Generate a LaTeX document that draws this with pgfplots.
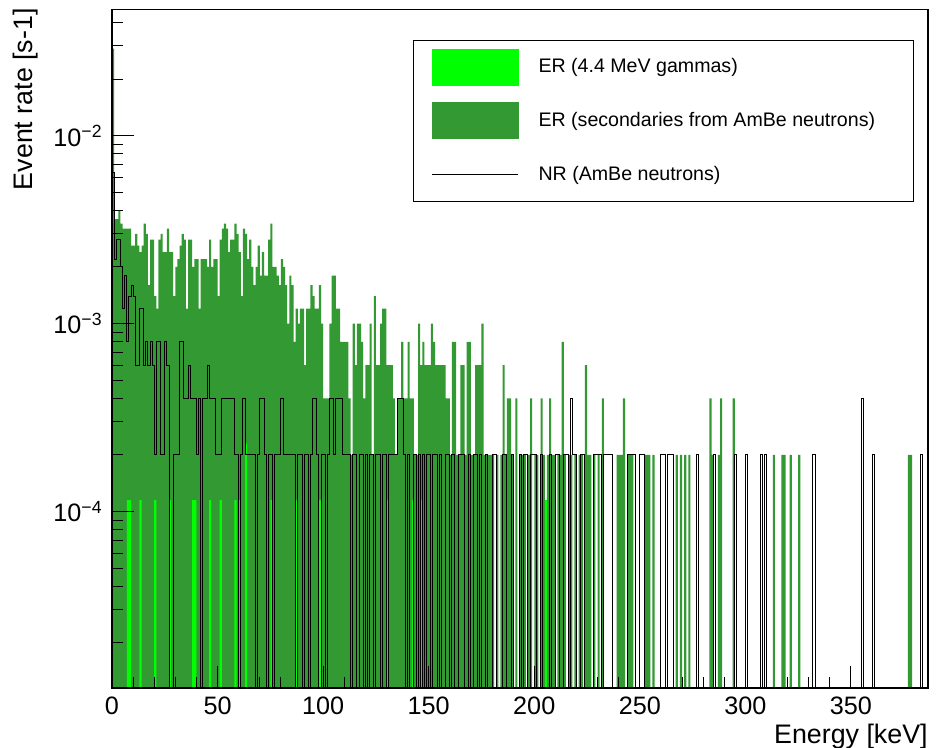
\documentclass[border=0pt]{standalone}
\usepackage{fontspec}
\setmainfont{Liberation Sans}
\usepackage{pgfplots}
\pgfplotsset{compat=1.18}
\definecolor{rootgreen}{RGB}{51,153,51}
\definecolor{rootlime}{RGB}{0,255,0}
\begin{document}
\begin{tikzpicture}
\begin{axis}[
  scale only axis,
  width=408pt, height=339.35pt,
  at={(0,0)}, anchor=south west,
  ymode=log, log origin=infty,
  xmin=0, xmax=386.5, ymin=1.15e-5, ymax=0.047,
  axis on top,
  axis line style={line width=0.6pt},
  tick align=inside, tick pos=left,
  major tick length=11pt, minor tick length=5.5pt,
  every tick/.style={black, line width=0.5pt},
  xtick={0,50,...,350}, minor x tick num=4,
  ytick={1e-4,1e-3,1e-2},
  yticklabels={10\textsuperscript{−4},10\textsuperscript{−3},10\textsuperscript{−2}},
  minor ytick={2e-5,3e-5,4e-5,5e-5,6e-5,7e-5,8e-5,9e-5,2e-4,3e-4,4e-4,5e-4,6e-4,7e-4,8e-4,9e-4,2e-3,3e-3,4e-3,5e-3,6e-3,7e-3,8e-3,9e-3,2e-2,3e-2,4e-2},
  /pgf/number format/assume math mode=true,
  xticklabel style={font=\fontsize{12.6}{15}\selectfont, inner sep=0pt, anchor=north, yshift=-4.3pt},
  yticklabel style={font=\fontsize{12.6}{15}\selectfont, inner sep=0pt, anchor=east, xshift=-4.5pt},
  xlabel={Energy [keV]},
  ylabel={Event rate [s-1]},
  xlabel style={at={(axis description cs:1,-0.0816)}, anchor=base east, inner sep=0pt, font=\fontsize{13.4}{16}\selectfont},
  ylabel style={at={(axis description cs:-0.098,1.0019)}, anchor=base east, inner sep=0pt, font=\fontsize{13.4}{16}\selectfont},
  legend style={at={(axis description cs:0.3689,0.9548)}, anchor=north west, draw=black, line width=0.5pt, fill=white,
    inner xsep=9pt, inner ysep=0pt, row sep=0pt, column sep=0pt, font=\fontsize{9.8}{12}\selectfont,
    nodes={inner xsep=10pt, inner ysep=0pt, minimum height=26.83pt, anchor=west}},
]
\addlegendimage{legend image code/.code={\fill[rootlime] (0pt,-9pt) rectangle (43pt,9pt);}}
\addlegendentry{ER (4.4 MeV gammas)}
\addlegendimage{legend image code/.code={\fill[rootgreen] (0pt,-9pt) rectangle (43pt,9pt);}}
\addlegendentry{ER (secondaries from AmBe neutrons)}
\addlegendimage{legend image code/.code={\draw[black, line width=0.5pt] (0pt,0pt) -- (43pt,0pt);}}
\addlegendentry{NR (AmBe neutrons)}

% ER (secondaries from AmBe neutrons), 1 keV bins
\addplot[ybar, bar width=1, bar shift=0pt, fill=rootgreen, draw=none, forget plot] coordinates {
(0.5,0.029)(1.5,0.0036)(2.5,0.0036)(3.5,0.004)(4.5,0.0034)(5.5,0.0032)(6.5,0.0032)(7.5,0.0032)(8.5,0.0032)(9.5,0.0026)(10.5,0.0026)(11.5,0.003)(12.5,0.0026)(13.5,0.0024)(14.5,0.0026)(15.5,0.0034)(16.5,0.003)(17.5,0.0016)(18.5,0.0028)(19.5,0.0028)(20.5,0.0014)(21.5,0.0012)(22.5,0.0028)(23.5,0.003)(24.5,0.0024)(25.5,0.0024)(26.5,0.0032)(27.5,0.0024)(28.5,0.0024)(29.5,0.0014)(30.5,0.002)(31.5,0.0022)(32.5,0.0026)(33.5,0.003)(34.5,0.0028)(35.5,0.0012)(36.5,0.0028)(37.5,0.0028)(38.5,0.002)(39.5,0.0022)(40.5,0.0022)(41.5,0.0012)(42.5,0.0022)(43.5,0.0022)(44.5,0.0022)(45.5,0.002)(46.5,0.0028)(47.5,0.002)(48.5,0.0022)(49.5,0.0022)(50.5,0.0014)(51.5,0.0028)(52.5,0.0032)(53.5,0.0034)(54.5,0.0032)(55.5,0.0024)(56.5,0.0028)(57.5,0.0028)(58.5,0.0034)(59.5,0.003)(60.5,0.0024)(61.5,0.0014)(62.5,0.0032)(63.5,0.003)(64.5,0.0022)(65.5,0.0028)(66.5,0.002)(67.5,0.0016)(68.5,0.002)(69.5,0.0026)(70.5,0.0018)(71.5,0.0024)(72.5,0.0018)(73.5,0.0018)(74.5,0.0028)(75.5,0.0034)(76.5,0.002)(77.5,0.002)(78.5,0.0018)(79.5,0.0016)(80.5,0.0022)(81.5,0.002)(82.5,0.0016)(83.5,0.001)(84.5,0.0018)(85.5,0.0016)(86.5,0.0008)(87.5,0.0012)(88.5,0.001)(89.5,0.0012)(90.5,0.0012)(91.5,0.0006)(92.5,0.0012)(93.5,0.0012)(94.5,0.0016)(95.5,0.0014)(96.5,0.0012)(97.5,0.0012)(98.5,0.0016)(99.5,0.001)(100.5,0.0004)(101.5,0.0004)(102.5,0.0004)(103.5,0.001)(104.5,0.0018)(105.5,0.0018)(106.5,0.0012)(107.5,0.0012)(108.5,0.0008)(109.5,0.0008)(110.5,0.0008)(111.5,0.0008)(112.5,0.0004)(113.5,0.0002)(114.5,0.001)(115.5,0.0006)(116.5,0.001)(117.5,0.001)(118.5,0.0008)(119.5,0.0004)(120.5,0.0006)(121.5,0.0006)(122.5,0.001)(123.5,0.0002)(124.5,0.0014)(125.5,0.0006)(126.5,0.0006)(127.5,0.001)(128.5,0.0012)(129.5,0.0012)(130.5,0.0006)(131.5,0.0006)(132.5,0.0006)(133.5,0.0004)(134.5,0.0002)(135.5,0.0004)(136.5,0.0004)(137.5,0.0008)(138.5,0.0004)(139.5,0.0004)(140.5,0.0008)(141.5,0.0004)(142.5,0.0004)(143.5,0.0002)(144.5,0.0002)(145.5,0.001)(146.5,0.0006)(147.5,0.0008)(148.5,0.0006)(149.5,0.0006)(150.5,0.0006)(151.5,0.001)(152.5,0.0008)(153.5,0.0006)(154.5,0.0006)(155.5,0.0006)(156.5,0.0006)(157.5,0.0006)(158.5,0.0004)(159.5,0.0004)(160.5,0.0002)(161.5,0.0008)(162.5,0.0008)(163.5,0.0002)(164.5,0.0002)(165.5,0.0006)(166.5,0.0006)(167.5,0.0002)(168.5,0.0008)(169.5,0.0008)(170.5,0.0002)(171.5,0.0002)(172.5,0.0006)(173.5,0.0006)(174.5,0.0006)(175.5,0.001)(176.5,0.0002)(177.5,0.0002)(178.5,0.0002)(179.5,0.0002)(180.5,0.0002)(182.5,0.0002)(184.5,0.0002)(185.5,0.0006)(186.5,0.0002)(187.5,0.0004)(188.5,0.0004)(189.5,0.0002)(191.5,0.0004)(193.5,0.0002)(194.5,0.0002)(195.5,0.0002)(197.5,0.0002)(198.5,0.0004)(200.5,0.0002)(201.5,0.0002)(203.5,0.0004)(204.5,0.0002)(206.5,0.0002)(207.5,0.0004)(208.5,0.0002)(209.5,0.0002)(211.5,0.0002)(212.5,0.0002)(213.5,0.0008)(214.5,0.0002)(216.5,0.0002)(217.5,0.0002)(219.5,0.0002)(221.5,0.0002)(222.5,0.0002)(224.5,0.0006)(225.5,0.0002)(226.5,0.0002)(228.5,0.0002)(230.5,0.0002)(232.5,0.0004)(239.5,0.0002)(240.5,0.0002)(241.5,0.0002)(242.5,0.0004)(244.5,0.0002)(245.5,0.0002)(246.5,0.0002)(252.5,0.0002)(253.5,0.0002)(254.5,0.0002)(256.5,0.0002)(267.5,0.0002)(269.5,0.0002)(271.5,0.0002)(273.5,0.0002)(283.5,0.0004)(284.5,0.0002)(287.5,0.0002)(288.5,0.0004)(294.5,0.0004)(313.5,0.0002)(317.5,0.0002)(318.5,0.0002)(321.5,0.0002)(325.5,0.0002)(377.5,0.0002)(378.5,0.0002)
};

% ER (4.4 MeV gammas)
\addplot[ybar, bar width=1, bar shift=0pt, fill=rootlime, draw=none, forget plot] coordinates {
(7.5,0.000115)(8.5,0.000115)(13.5,0.000115)(20.5,0.000115)(27.5,0.000115)(38.5,0.000115)(39.5,0.000115)(46.5,0.000115)(51.5,0.000115)(58.5,0.000115)(60.5,0.000115)(63.5,0.00023)(75.5,0.000115)(87.5,0.000115)(98.5,0.000115)(130.5,0.000115)(142.5,0.000115)(146.5,0.000115)(205.5,0.000115)
};

% NR (AmBe neutrons), bin left edges; 1e-7 marks empty bins (below the axis)
\addplot[const plot mark left, black, line width=0.5pt, forget plot] coordinates {
(0,1e-7)(0,0.0064)(1,0.0022)(2,0.0028)(3,0.0028)(4,0.002)(5,0.0012)(6,0.0018)(7,0.0008)(8,0.0014)(9,0.0016)(10,0.0014)(11,0.0006)(12,0.0006)(13,0.0012)(14,0.0012)(15,0.0006)(16,0.0008)(17,0.0006)(18,0.0008)(19,0.0006)(20,0.0002)(21,0.0008)(22,0.0008)(23,0.0002)(24,0.0002)(25,0.0008)(26,0.0006)(27,1e-7)(29,0.0002)(30,0.0002)(31,0.0002)(32,0.0008)(33,0.0008)(34,0.0004)(35,0.0004)(36,0.0006)(37,0.0004)(38,0.0004)(39,0.0004)(40,0.0002)(41,0.0004)(42,1e-7)(43,0.0004)(44,0.0004)(45,0.0006)(46,0.0004)(47,0.0004)(48,0.0004)(49,0.0002)(50,0.0002)(51,0.0002)(52,0.0004)(53,0.0004)(54,0.0004)(55,0.0004)(56,0.0004)(57,0.0004)(58,0.0002)(59,0.0002)(60,1e-7)(61,0.0002)(62,0.0004)(63,0.0002)(64,0.0002)(65,0.0002)(66,0.0002)(67,0.0002)(68,1e-7)(69,0.0002)(70,0.0004)(71,0.0004)(72,0.0002)(73,1e-7)(74,0.0002)(75,0.0002)(76,1e-7)(77,0.0002)(78,0.0002)(79,0.0002)(80,0.0004)(81,0.0002)(82,0.0002)(83,0.0002)(84,0.0002)(85,0.0002)(86,0.0002)(87,1e-7)(88,0.0002)(89,0.0002)(90,1e-7)(91,0.0002)(92,0.0002)(93,1e-7)(94,0.0002)(95,0.0004)(96,0.0004)(97,0.0002)(98,1e-7)(99,0.0002)(100,0.0002)(101,1e-7)(102,0.0002)(103,0.0004)(104,0.0004)(105,0.0002)(106,0.0004)(107,0.0004)(108,0.0004)(109,0.0002)(110,0.0002)(111,0.0002)(112,0.0002)(113,1e-7)(114,0.0002)(115,0.0002)(116,1e-7)(117,0.0002)(118,0.0002)(119,1e-7)(120,0.0002)(121,1e-7)(122,0.0002)(123,0.0002)(124,1e-7)(125,0.0002)(126,0.0002)(127,1e-7)(128,0.0002)(129,0.0002)(130,1e-7)(131,0.0002)(132,0.0002)(133,0.0002)(134,0.0002)(135,0.0004)(136,0.0004)(137,0.0004)(138,0.0002)(139,1e-7)(140,0.0002)(141,1e-7)(143,0.0002)(144,1e-7)(145,0.0002)(146,1e-7)(147,0.0002)(148,1e-7)(149,0.0002)(150,0.0002)(151,1e-7)(152,0.0002)(153,0.0002)(154,1e-7)(155,0.0002)(156,1e-7)(158,0.0002)(159,0.0002)(160,1e-7)(161,0.0002)(162,1e-7)(164,0.0002)(165,0.0002)(166,0.0002)(167,1e-7)(169,0.0002)(170,1e-7)(171,0.0002)(172,0.0002)(173,1e-7)(174,0.0002)(175,1e-7)(177,0.0002)(178,1e-7)(180,0.0002)(181,0.0002)(182,1e-7)(185,0.0002)(186,0.0002)(187,1e-7)(189,0.0002)(190,1e-7)(193,0.0002)(194,1e-7)(195,0.0002)(196,0.0002)(197,1e-7)(198,0.0002)(199,0.0002)(200,0.0002)(201,1e-7)(203,0.0002)(204,1e-7)(207,0.0002)(208,1e-7)(210,0.0002)(211,0.0002)(212,1e-7)(214,0.0002)(215,0.0002)(216,1e-7)(217,0.0004)(218,0.0002)(219,0.0002)(220,1e-7)(222,0.0002)(223,0.0002)(224,1e-7)(228,0.0002)(229,0.0002)(230,0.0002)(231,0.0002)(232,1e-7)(233,0.0002)(234,0.0002)(235,0.0002)(236,0.0002)(237,1e-7)(244,0.0002)(245,0.0002)(246,0.0002)(247,0.0002)(248,1e-7)(250,0.0002)(251,0.0002)(252,1e-7)(260,0.0002)(261,0.0002)(262,1e-7)(263,0.0002)(264,0.0002)(265,0.0002)(266,1e-7)(277,0.0002)(278,1e-7)(285,0.0002)(286,1e-7)(295,0.0002)(296,1e-7)(300,0.0002)(301,1e-7)(307,0.0002)(308,1e-7)(309,0.0002)(310,1e-7)(332,0.0002)(333,1e-7)(355,0.0004)(356,1e-7)(360,0.0002)(361,1e-7)(383,0.0002)(384,1e-7)(387,1e-7)
};
\end{axis}
\pgfresetboundingbox
\path[use as bounding box] (-56pt,-30pt) rectangle (412pt,344pt);
\end{tikzpicture}
\end{document}
